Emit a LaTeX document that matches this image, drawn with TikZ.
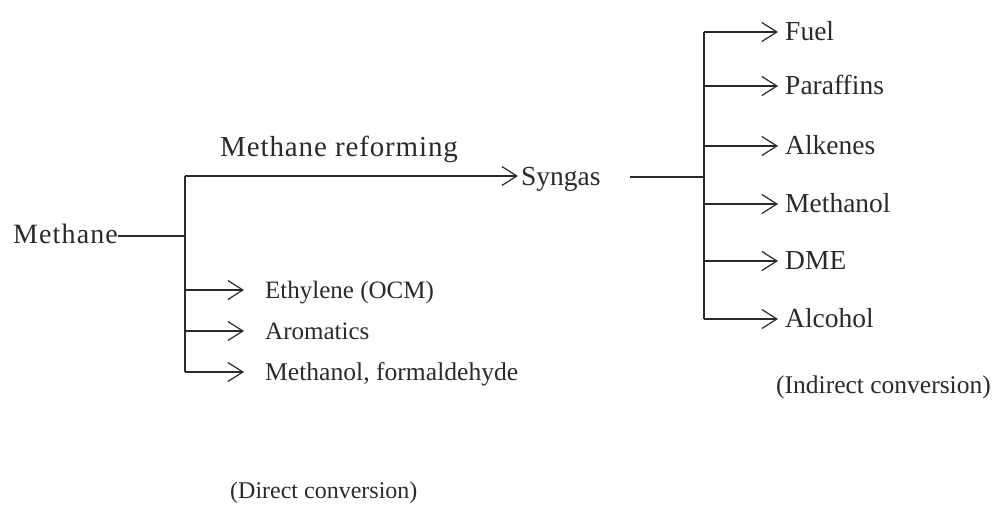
\documentclass[tikz,border=0pt]{standalone}
\usepackage{fontspec}
\setmainfont{Liberation Serif}
\usetikzlibrary{arrows.meta}
\definecolor{ink}{HTML}{2A2A2A}
\tikzset{
  lbl/.style={anchor=base west, inner sep=0pt, text=ink, font=\fontsize{#1}{#1}\selectfont},
  lbl/.default=25,
  conn/.style={draw=ink, line width=1.2pt},
  arr/.style={conn, -{Straight Barb[length=15pt,width=19pt,line width=1.2pt]}},
}
\begin{document}
\begin{tikzpicture}[x=1pt,y=-1pt]
\useasboundingbox (0,0) rectangle (993,510);
% left part
\node[lbl=28] (meth) at (13,244) {\addfontfeature{LetterSpace=4}Methane};
\coordinate (j1) at (185,236);
\coordinate (j1top) at (185,176);
\coordinate (j1bot) at (185,372);
\node[lbl=29] (ref) at (220,157) {\addfontfeature{LetterSpace=3}Methane reforming};
\node[lbl=27.5] (syn) at (521,186) {Syngas};
\node[lbl=25] (eth) at (265,299) {Ethylene (OCM)};
\node[lbl=25] (aro) at (265,340) {Aromatics};
\node[lbl=25.6] (mf) at (265,381) {Methanol, formaldehyde};
\node[lbl=24] (dc) at (230,498) {(Direct conversion)};
\coordinate (teth) at (244,290);
\coordinate (taro) at (244,331);
\coordinate (tmf) at (244,372);
\coordinate (tsyn) at (518,176);
\coordinate (mend) at (118,236);
\draw[conn] (mend) -- (j1);
\draw[conn] (j1top) -- (j1bot);
\draw[arr] (j1top) -- (tsyn);
\draw[arr] (j1 |- teth) -- (teth);
\draw[arr] (j1 |- taro) -- (taro);
\draw[arr] (j1 |- tmf) -- (tmf);
% right part
\coordinate (s1) at (630,177);
\coordinate (j2) at (704,177);
\coordinate (j2top) at (704,32);
\coordinate (j2bot) at (704,319);
\draw[conn] (s1) -- (j2);
\draw[conn] (j2top) -- (j2bot);
\foreach \y/\t/\n in {32/Fuel/fuel,86/Paraffins/par,146/Alkenes/alk,204/Methanol/mol,261/DME/dme,319/Alcohol/alc}{
  \coordinate (t\n) at (778,\y);
  \node[lbl=27.5] (\n) at (785,\y+9) {\t};
  \draw[arr] (j2 |- t\n) -- (t\n);
}
\node[lbl=25.5] (ic) at (776,393) {(Indirect conversion)};
\end{tikzpicture}
\end{document}
